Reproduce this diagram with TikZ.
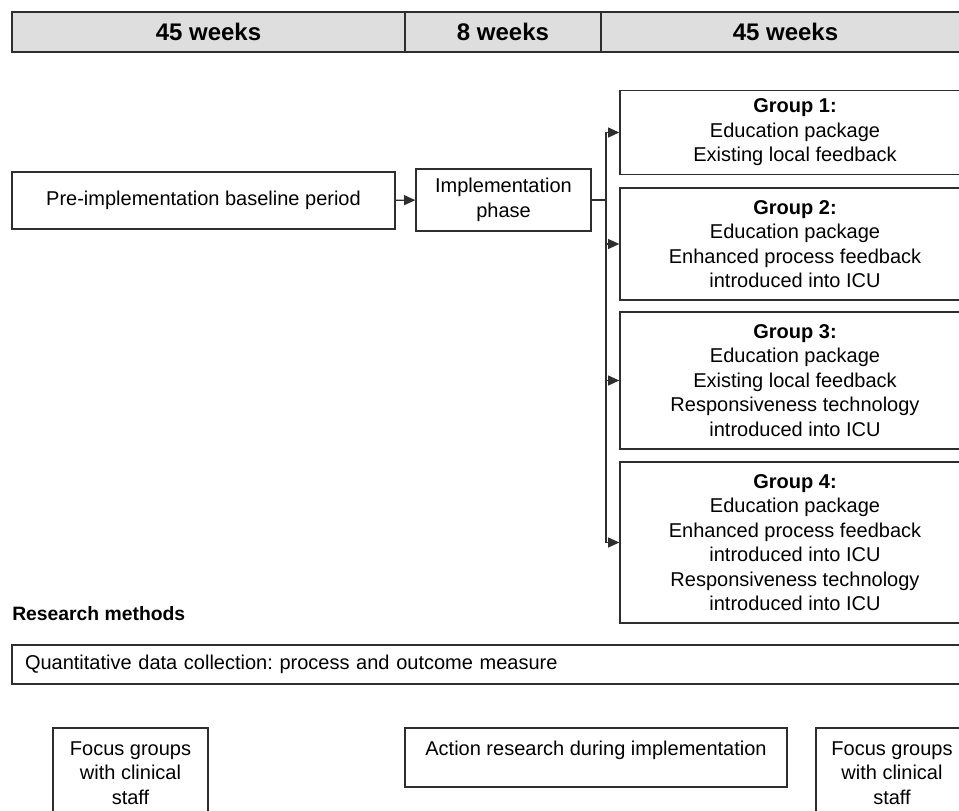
\documentclass[tikz,border=0pt]{standalone}
\usepackage{fontspec}
\setmainfont{Liberation Sans}
\usetikzlibrary{arrows.meta}
\frenchspacing

\definecolor{linegray}{HTML}{2E2E2E}
\definecolor{headgray}{HTML}{DEDEDE}
\newcommand{\bodyfont}{\fontsize{15}{18.4}\selectfont}
\newcommand{\headfont}{\fontsize{18}{21}\selectfont\bfseries}

\tikzset{
    box/.style={draw=linegray, line width=1pt, align=center, font=\bodyfont, inner sep=0pt},
    headbox/.style={box, fill=headgray, font=\headfont, minimum height=30pt},
    grpbox/.style={box, minimum width=262.5pt},
    arr/.style={draw=linegray, line width=1pt, -{Triangle[length=8.5pt,width=7.5pt]}}
}

\begin{document}
\begin{tikzpicture}[x=0.75pt, y=-0.75pt]
    \useasboundingbox (0,0) rectangle (959,810);
    \clip (0,0) rectangle (959,810);

    % --- time line ---
    \node[headbox, minimum width=294.75pt] (h1) at (208.5, 32) {45 weeks};
    \node[headbox, minimum width=147pt] (h2) at (503, 32) {8 weeks};
    \node[headbox, minimum width=276.75pt] (h3) at (785.5, 32) {45 weeks};

    % --- phases ---
    \node[box, minimum width=287.25pt, minimum height=42.75pt] (pre) at (203.5, 200.5) {Pre-implementation baseline period};
    \node[box, minimum width=131.25pt, minimum height=46.5pt] (impl) at (503.5, 200) {Implementation\\phase};

    % --- groups ---
    \node[grpbox, minimum height=63pt] (g1) at (795, 132.5) {\textbf{Group 1:}\\Education package\\Existing local feedback};
    \node[grpbox, minimum height=84pt] (g2) at (795, 244) {\textbf{Group 2:}\\Education package\\Enhanced process feedback\\introduced into ICU};
    \node[grpbox, minimum height=102.75pt] (g3) at (795, 380.5) {\textbf{Group 3:}\\Education package\\Existing local feedback\\Responsiveness technology\\introduced into ICU};
    \node[grpbox, minimum height=120.75pt] (g4) at (795, 542.5) {\textbf{Group 4:}\\Education package\\Enhanced process feedback\\introduced into ICU\\Responsiveness technology\\introduced into ICU};

    \coordinate (split) at (606, 200);
    \draw[arr] (pre) -- (impl);
    \draw[draw=linegray, line width=1pt] (impl.east) -- (split);
    \foreach \g in {g1,g2,g3,g4} \draw[arr] (split) |- (\g.west); % fan out

    % --- research methods ---
    \node[anchor=west, inner sep=0pt, font=\fontsize{14.5}{17}\selectfont\bfseries] (rm) at (12, 614) {Research methods};
    \node[box, minimum width=718.5pt, minimum height=29.25pt, text width=699pt, align=left] (quant) at (491, 664.5) {Quantitative data collection: process and outcome measure};

    \node[box, minimum width=116.25pt, minimum height=67.5pt] (fg1) at (130.5, 773) {Focus groups\\with clinical\\staff};
    \node[box, minimum width=286.5pt, minimum height=44.25pt] (act) at (596, 757.5) {Action research during implementation\\[-10pt]\strut};
    \node[box, minimum width=114pt, minimum height=67.5pt] (fg2) at (892, 773) {Focus groups\\with clinical\\staff};
\end{tikzpicture}
\end{document}
